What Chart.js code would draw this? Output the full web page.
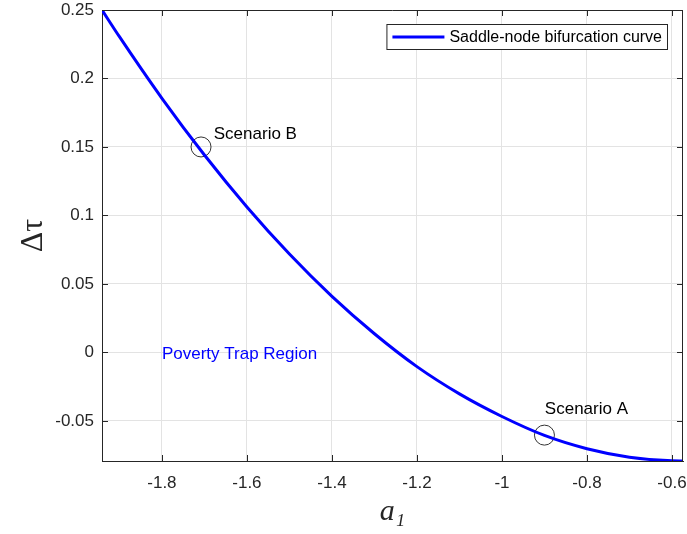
<!DOCTYPE html>
<html lang="en">
<head>
  <meta charset="UTF-8">
  <title>Saddle-node bifurcation curve</title>
  <script src="https://cdn.jsdelivr.net/npm/chart.js"></script>
  <style>
    html, body {
      margin: 0;
      padding: 0;
      background: #ffffff;
    }
    .chart-container {
      width: 687px;
      height: 534px;
      position: relative;
    }
  </style>
</head>
<body>
  <div class="chart-container">
    <canvas id="bifurcationChart"></canvas>
  </div>

  <script>
    // Curve
    const a1 = [-1.941, -1.9, -1.8, -1.7, -1.6, -1.5, -1.4, -1.3, -1.2, -1.1, -1.0, -0.9, -0.8, -0.7, -0.6, -0.574]
    const dTau = [0.25, 0.2305, 0.1855, 0.1441, 0.1062, 0.0718, 0.0409, 0.0136, -0.0104, -0.0303, -0.0468, -0.0606, -0.0703, -0.0765, -0.0792, -0.0793]

    // Marked scenarios
    const scenarioX = [-1.708, -0.9]
    const scenarioY = [0.15, -0.0604]

    // Text labels placed in data coordinates
    const noteText = ['Scenario B', 'Scenario A', 'Poverty Trap Region']
    const noteX = [-1.678, -0.899, -1.8]
    const noteY = [0.159, -0.0413, -0.0016]
    const noteColor = ['#000000', '#000000', '#0000ff']

    // Axes
    const xRange = [-1.941, -0.574]
    const yRange = [-0.0793, 0.25]
    const xTicks = [-1.8, -1.6, -1.4, -1.2, -1, -0.8, -0.6]
    const yTicks = [-0.05, 0, 0.05, 0.1, 0.15, 0.2, 0.25]

    const legendLabel = 'Saddle-node bifurcation curve'
    const axisColor = '#262626'

    // Draws the box, inward ticks, text notes and the legend
    const matlabStyle = {
      id: 'matlabStyle',
      afterDatasetsDraw(chart) {
        const ctx = chart.ctx
        const area = chart.chartArea
        const xs = chart.scales.x
        const ys = chart.scales.y
        ctx.save()

        // box and inward ticks
        ctx.strokeStyle = axisColor
        ctx.lineWidth = 1
        ctx.beginPath()
        ctx.moveTo(area.left, area.top + 0.5)
        ctx.lineTo(area.right, area.top + 0.5)
        ctx.moveTo(area.right - 0.5, area.top)
        ctx.lineTo(area.right - 0.5, area.bottom)
        xTicks.forEach(v => {
          const px = Math.round(xs.getPixelForValue(v)) + 0.5
          ctx.moveTo(px, area.bottom)
          ctx.lineTo(px, area.bottom - 6)
          ctx.moveTo(px, area.top)
          ctx.lineTo(px, area.top + 6)
        })
        yTicks.forEach(v => {
          const py = Math.round(ys.getPixelForValue(v)) + 0.5
          ctx.moveTo(area.left, py)
          ctx.lineTo(area.left + 6, py)
          ctx.moveTo(area.right, py)
          ctx.lineTo(area.right - 6, py)
        })
        ctx.stroke()

        // notes
        ctx.font = '17px "Liberation Sans", Arial, sans-serif'
        ctx.textBaseline = 'middle'
        ctx.textAlign = 'left'
        noteText.forEach((t, i) => {
          ctx.fillStyle = noteColor[i]
          ctx.fillText(t, xs.getPixelForValue(noteX[i]), ys.getPixelForValue(noteY[i]))
        })

        // legend
        ctx.font = '16px "Liberation Sans", Arial, sans-serif'
        const textW = ctx.measureText(legendLabel).width
        const boxW = textW + 68
        const boxH = 25
        const boxX = area.right - 16 - boxW
        const boxY = area.top + 14
        ctx.fillStyle = '#ffffff'
        ctx.fillRect(boxX, boxY, boxW, boxH)
        ctx.strokeStyle = axisColor
        ctx.strokeRect(boxX + 0.5, boxY + 0.5, boxW, boxH)
        ctx.strokeStyle = '#0000ff'
        ctx.lineWidth = 3
        ctx.beginPath()
        ctx.moveTo(boxX + 6, boxY + boxH / 2 + 0.5)
        ctx.lineTo(boxX + 58, boxY + boxH / 2 + 0.5)
        ctx.stroke()
        ctx.fillStyle = '#000000'
        ctx.fillText(legendLabel, boxX + 63, boxY + boxH / 2 + 1)

        ctx.restore()
      }
    }

    new Chart(document.getElementById('bifurcationChart'), {
      type: 'line',
      data: {
        datasets: [{
          label: legendLabel,
          data: a1.map((x, i) => ({ x, y: dTau[i] })),
          borderColor: '#0000ff',
          borderWidth: 3,
          pointRadius: 0,
          cubicInterpolationMode: 'monotone',
          fill: false
        }, {
          label: 'Scenarios',
          type: 'scatter',
          data: scenarioX.map((x, i) => ({ x, y: scenarioY[i] })),
          pointRadius: 10,
          pointStyle: 'circle',
          backgroundColor: 'rgba(0,0,0,0)',
          borderColor: '#333333',
          borderWidth: 1,
          showLine: false
        }]
      },
      options: {
        responsive: true,
        maintainAspectRatio: false,
        animation: false,
        layout: {
          autoPadding: false,
          padding: { left: 0, right: 4, top: 10, bottom: 0 }
        },
        plugins: {
          legend: { display: false },
          tooltip: { enabled: false }
        },
        scales: {
          x: {
            type: 'linear',
            min: xRange[0],
            max: xRange[1],
            afterBuildTicks: scale => { scale.ticks = xTicks.map(value => ({ value })) },
            afterFit: scale => {
              scale.height = 73
              scale.paddingLeft = 0
              scale.paddingRight = 0
            },
            grid: { color: '#e3e3e3', drawTicks: false },
            border: { color: axisColor, width: 1 },
            ticks: {
              color: axisColor,
              padding: 12,
              maxRotation: 0,
              font: { family: '"Liberation Sans", Arial, sans-serif', size: 17 },
              callback: v => String(v)
            },
            title: {
              display: true,
              text: 'a₁',
              color: axisColor,
              padding: { top: 0, bottom: 4 },
              font: { family: '"Liberation Serif", "Times New Roman", serif', size: 30, style: 'italic' }
            }
          },
          y: {
            type: 'linear',
            min: yRange[0],
            max: yRange[1],
            afterBuildTicks: scale => { scale.ticks = yTicks.map(value => ({ value })) },
            afterFit: scale => {
              scale.width = 102
              scale.paddingTop = 0
              scale.paddingBottom = 0
            },
            grid: { color: '#e3e3e3', drawTicks: false },
            border: { color: axisColor, width: 1 },
            ticks: {
              color: axisColor,
              padding: 8,
              font: { family: '"Liberation Sans", Arial, sans-serif', size: 17 },
              callback: v => String(v)
            },
            title: {
              display: true,
              text: 'Δτ',
              color: axisColor,
              padding: { top: 14, bottom: 0 },
              font: { family: '"Liberation Serif", "Times New Roman", serif', size: 32 }
            }
          }
        }
      },
      plugins: [matlabStyle]
    })
  </script>
</body>
</html>
